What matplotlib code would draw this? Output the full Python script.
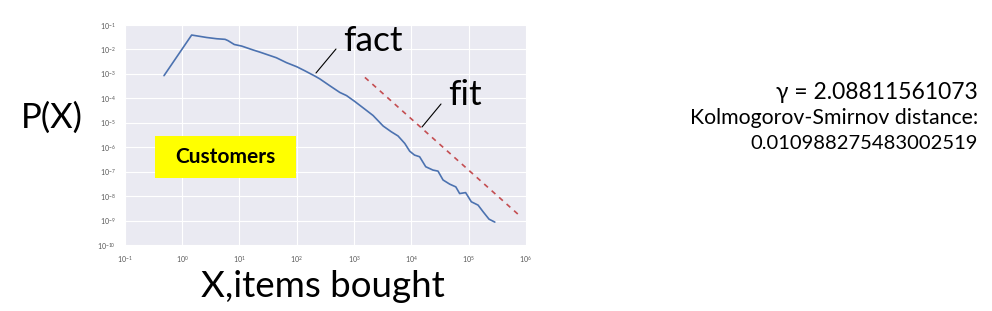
import matplotlib
matplotlib.use('Agg')
import matplotlib.pyplot as plt
import seaborn as sns
from matplotlib.lines import Line2D
from matplotlib.patches import Rectangle

# empirical distribution of items bought per customer
fact_x = [0.48, 1.46, 2.66, 4.0, 5.6, 6.3, 8.1, 10.9, 17.4, 22.7, 44, 66, 100, 138, 207, 252,
          377, 565, 741, 1030, 1540, 2150, 3230, 4480, 5880, 7700, 9400, 11400, 14000,
          17900, 23900, 29300, 35900, 47000, 60000, 70000, 89000, 112000, 147000,
          180000, 228000, 288000]
fact_y = [8.5e-4, 3.9e-2, 3.1e-2, 2.75e-2, 2.6e-2, 2.3e-2, 1.6e-2, 1.38e-2, 9.5e-3, 7.8e-3,
          4.6e-3, 2.9e-3, 1.97e-3, 1.35e-3, 8.2e-4, 6.3e-4, 3.3e-4, 1.75e-4, 1.3e-4, 7.5e-5,
          3.65e-5, 2.0e-5, 7.4e-6, 4.3e-6, 2.9e-6, 1.44e-6, 6.9e-7, 4.8e-7, 4.1e-7, 1.6e-7,
          1.17e-7, 1.06e-7, 4.6e-8, 3.1e-8, 2.4e-8, 1.28e-8, 1.4e-8, 5.9e-9, 4.3e-9, 2.3e-9,
          1.15e-9, 8.7e-10]

# power law fit, endpoints
fit_x = [1550, 7.8e5]
fit_y = [7.2e-4, 1.6e-9]

gamma = '2.08811561073'
ks_dist = '0.010988275483002519'

sns.set_style('darkgrid')
plt.rcParams['font.family'] = ['Lato', 'DejaVu Sans']
plt.rcParams['text.color'] = 'black'

fig = plt.figure(figsize=(9.92, 3.11), dpi=100)
ax = fig.add_axes([0.126, 0.212, 0.404, 0.7075])

ax.plot(fact_x, fact_y, color='#4C72B0', lw=1.2)
ax.plot(fit_x, fit_y, color='#C44E52', lw=1.2, ls=(0, (3, 3)))

ax.set_xscale('log')
ax.set_yscale('log')
ax.set_xlim(1e-1, 1e6)
ax.set_ylim(1e-10, 1e-1)
ax.set_xticks([10.0 ** k for k in range(-1, 7)])
ax.set_yticks([10.0 ** k for k in range(-10, 0)])
ax.minorticks_off()
ax.tick_params(labelsize=5, colors='#555555', pad=3)
for s in ax.spines.values():
    s.set_visible(False)

# labels
fig.text(0.052, 0.622, 'P(X)', fontsize=25, ha='center', va='center')
fig.text(0.325, 0.08, 'X,items bought', fontsize=26.5, ha='center', va='center')
fig.text(0.346, 0.836, 'fact', fontsize=25.5, ha='left', va='baseline')
fig.text(0.4516, 0.662, 'fit', fontsize=25.5, ha='left', va='baseline')
fig.add_artist(Line2D([316 / 992, 336 / 992], [1 - 73 / 311, 1 - 49 / 311], color='black', lw=0.8))
fig.add_artist(Line2D([422 / 992, 441 / 992], [1 - 127 / 311, 1 - 104 / 311], color='black', lw=0.8))

fig.add_artist(Rectangle((0.156, 0.4277), 0.1421, 0.135, transform=fig.transFigure,
                         facecolor='#FFFF00', edgecolor='none'))
fig.text(0.2273, 0.495, 'Customers', fontsize=15, fontweight='bold', ha='center', va='center')

fig.text(0.986, 0.704, 'γ = ' + gamma, fontsize=16.5, ha='right', va='center')
fig.text(0.986, 0.621, 'Kolmogorov-Smirnov distance:', fontsize=15.3, ha='right', va='center')
fig.text(0.986, 0.540, ks_dist, fontsize=14.5, ha='right', va='center')

fig.savefig('out.png', dpi=100)
